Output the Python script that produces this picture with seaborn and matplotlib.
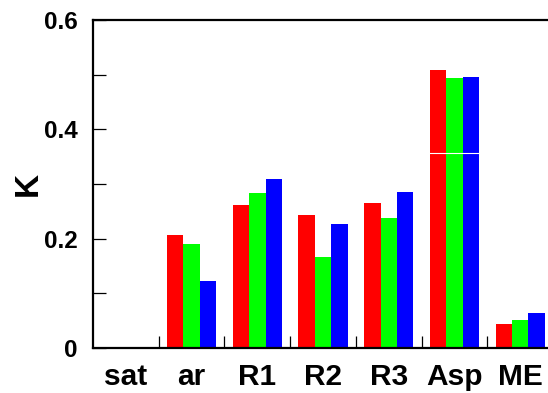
import numpy as np
import pandas as pd
import matplotlib
matplotlib.use("Agg")
import matplotlib.pyplot as plt
from matplotlib.ticker import MultipleLocator
import seaborn as sns

# Categories along the x axis
categories = ["sat", "ar", "R1", "R2", "R3", "Asp", "ME"]

# K values for the three series (sat has no bars)
series_red = [np.nan, 0.207, 0.262, 0.243, 0.265, 0.509, 0.043]
series_green = [np.nan, 0.191, 0.283, 0.166, 0.238, 0.494, 0.051]
series_blue = [np.nan, 0.123, 0.309, 0.227, 0.285, 0.495, 0.064]

series_names = ["red", "green", "blue"]
colors = ["#ff0000", "#00ff00", "#0000ff"]

# white rule across the tall bars
rule_level = 0.357

df = pd.DataFrame({
    "cat": categories * 3,
    "K": series_red + series_green + series_blue,
    "series": [n for n in series_names for _ in categories],
})

sns.set_style("ticks")
plt.rcParams["font.family"] = ["Liberation Sans", "DejaVu Sans"]
plt.rcParams["font.weight"] = "bold"
plt.rcParams["text.color"] = "black"
plt.rcParams["axes.labelcolor"] = "black"
plt.rcParams["xtick.color"] = "black"
plt.rcParams["ytick.color"] = "black"

fig = plt.figure(figsize=(5.48, 3.93), dpi=100)
ax = fig.add_axes([93 / 548, 45 / 393, 7 * 65.72 / 548, 328 / 393])

sns.barplot(data=df, x="cat", y="K", hue="series", order=categories,
            hue_order=series_names, palette=colors, saturation=1,
            width=0.75, linewidth=0, errorbar=None, legend=False, ax=ax)

ax.axhline(rule_level, color="white", lw=0.8, zorder=5)

ax.set_xlim(-0.5, 6.5)
ax.set_ylim(0, 0.6)

ax.yaxis.set_major_locator(MultipleLocator(0.2))
ax.yaxis.set_minor_locator(MultipleLocator(0.1))
ax.set_yticks([0, 0.2, 0.4, 0.6])
ax.set_yticklabels(["0", "0.2", "0.4", "0.6"])
ax.tick_params(axis="y", which="both", direction="in", length=9, width=0.9,
               labelsize=17.5, pad=11, colors="black")

# x ticks sit between groups; labels sit at the group centres
ax.set_xticks(np.arange(len(categories)) + 0.5)
ax.set_xticklabels([])
ax.set_xticks(np.arange(len(categories)), minor=True)
ax.set_xticklabels(categories, minor=True)
ax.tick_params(axis="x", which="major", direction="in", length=9, width=0.9,
               colors="black")
ax.tick_params(axis="x", which="minor", length=0, labelsize=21.5, pad=10.5,
               colors="black")
for lbl in ax.get_xticklabels(minor=True) + ax.get_yticklabels():
    lbl.set_fontweight("bold")

ax.set_xlabel("")
ax.set_ylabel("K", fontsize=24, fontweight="bold", labelpad=0, color="black")

for side in ["left", "bottom", "top"]:
    ax.spines[side].set_linewidth(1.6)
    ax.spines[side].set_color("black")
    ax.spines[side].set_zorder(10)
ax.spines["right"].set_visible(False)

fig.savefig("out.png", dpi=100)
